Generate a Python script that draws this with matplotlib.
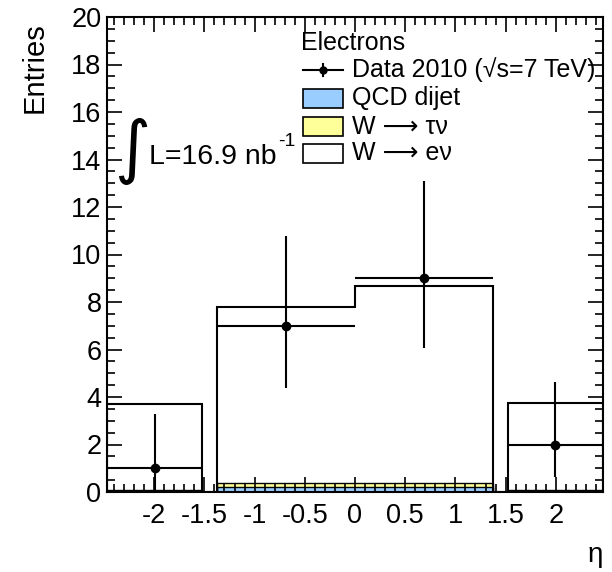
import numpy as np
import matplotlib
matplotlib.use("Agg")
import matplotlib.pyplot as plt
from matplotlib.patches import Rectangle
from matplotlib.lines import Line2D

plt.rcParams['font.family'] = ['Liberation Sans', 'DejaVu Sans']

# bin edges in eta (crack region 1.37-1.52 is empty)
edges = [-2.47, -1.52, -1.37, 0.0, 1.37, 1.52, 2.47]
qcd = [0.05, 0.0, 0.23, 0.23, 0.0, 0.05]
wtaunu = [0.03, 0.0, 0.13, 0.13, 0.0, 0.03]
wenu = [3.64, 0.0, 7.44, 8.30, 0.0, 3.68]

# data points
data_x = [-1.995, -0.685, 0.685, 1.995]
data_xerr = [0.475, 0.685, 0.685, 0.475]
data_y = [1, 7, 9, 2]
data_err_lo = [1.0, 2.6, 2.95, 1.35]
data_err_hi = [2.3, 3.8, 4.1, 2.65]

legend_labels = ["Data 2010 (\u221as=7 TeV)", "QCD dijet", "W \u27f6 \u03c4\u03bd", "W \u27f6 e\u03bd"]
legend_colors = ["#99ccff", "#ffff99", "white"]

W, H = 612, 572
fig = plt.figure(figsize=(W / 100, H / 100), dpi=100)

def px(x, y):
    return (x / W, 1 - y / H)

ax = fig.add_axes([107 / W, (H - 492) / H, (603 - 107) / W, (492 - 17) / H])

# stacked histogram, drawn top layer first
c1 = np.array(qcd)
c2 = c1 + np.array(wtaunu)
c3 = c2 + np.array(wenu)
for vals, col, lw in [(c3, "white", 1.5), (c2, "#ffff99", 1.0), (c1, "#99ccff", 1.0)]:
    ax.stairs(vals, edges, fill=True, color=col, zorder=1)
    ax.stairs(vals, edges, fill=False, color="black", linewidth=lw, zorder=2)

ax.errorbar(data_x, data_y, xerr=data_xerr, yerr=[data_err_lo, data_err_hi],
            fmt="o", color="black", markersize=6, elinewidth=1.5, capsize=0, zorder=4)

ax.set_xlim(-2.47, 2.47)
ax.set_ylim(0, 20)
ax.set_xticks([-2, -1.5, -1, -0.5, 0, 0.5, 1, 1.5, 2])
ax.set_xticklabels(["-2", "-1.5", "-1", "-0.5", "0", "0.5", "1", "1.5", "2"])
ax.set_yticks(np.arange(0, 21, 2))
ax.xaxis.set_minor_locator(matplotlib.ticker.MultipleLocator(0.1))
ax.yaxis.set_minor_locator(matplotlib.ticker.MultipleLocator(0.5))
ax.tick_params(which="both", direction="in", top=True, right=True, width=1.2, labelsize=19.5, zorder=5)
ax.tick_params(which="major", length=10.5, pad=4)
ax.tick_params(which="minor", length=5.5)
ax.tick_params(axis="x", pad=8)
for s in ax.spines.values():
    s.set_linewidth(1.5)
    s.set_zorder(6)

fig.text(*px(35, 22), "Entries", rotation=90, ha="center", va="top", fontsize=21)
fig.text(*px(603, 555), "\u03b7", ha="right", va="center", fontsize=20)

# luminosity
fig.text(*px(132, 151), "\u222b", ha="center", va="center", fontsize=50, family="DejaVu Sans")
fig.text(*px(149, 164), "L=16.9 nb", ha="left", va="baseline", fontsize=20.5)
fig.text(*px(278, 146), "-1", ha="left", va="baseline", fontsize=14)

# legend
fig.text(*px(301, 43), "Electrons", ha="left", va="center", fontsize=18)
fig.add_artist(Line2D([303 / W, 343 / W], [1 - 70 / H, 1 - 70 / H], color="black", lw=1.5,
                      transform=fig.transFigure))
fig.add_artist(Line2D([323 / W], [1 - 70 / H], color="black", marker="o", markersize=5,
                      transform=fig.transFigure))
fig.add_artist(Line2D([323 / W, 323 / W], [1 - 64 / H, 1 - 76 / H], color="black", lw=1.5,
                      transform=fig.transFigure))
fig.text(*px(352, 70), legend_labels[0], ha="left", va="center", fontsize=18)
rows = [98.5, 126.5, 153.5]
for lab, col, yc in zip(legend_labels[1:], legend_colors, rows):
    x0, y0 = px(303, yc + 9.5)
    fig.add_artist(Rectangle((x0, y0), 40 / W, 19 / H, facecolor=col, edgecolor="black",
                             lw=1.2, transform=fig.transFigure))
    fig.text(*px(352, yc), lab, ha="left", va="center", fontsize=18)

fig.savefig("out.png", dpi=100)
